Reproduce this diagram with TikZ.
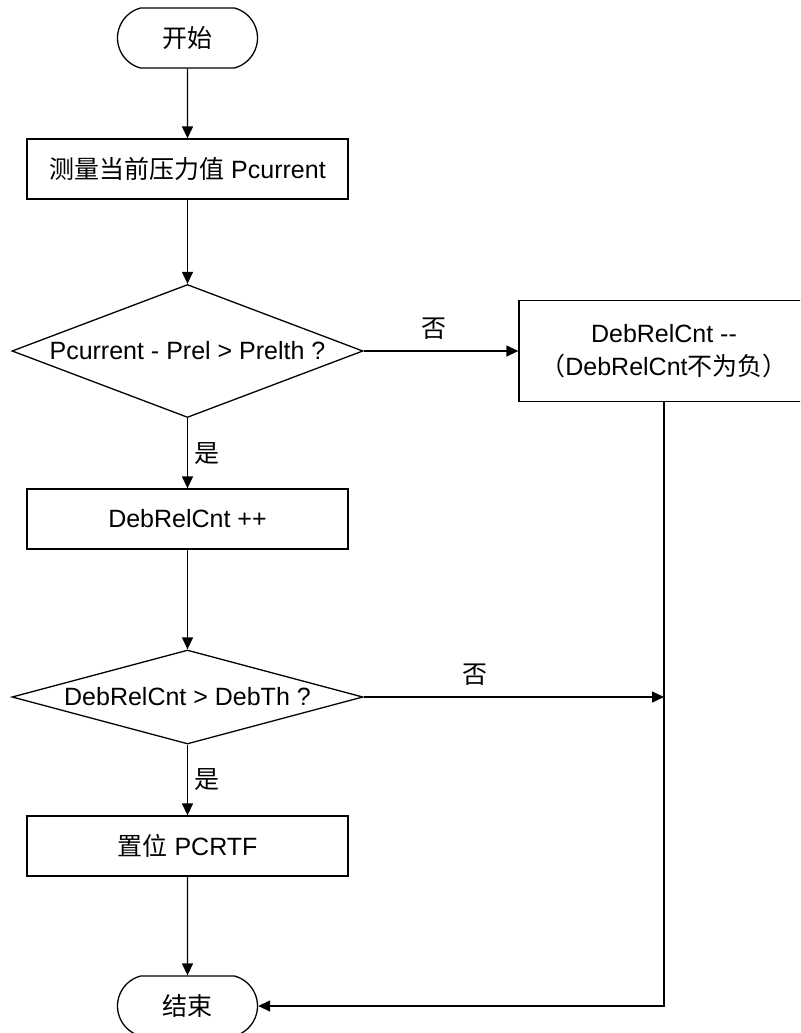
\documentclass[tikz,border=0pt]{standalone}
\usepackage{fontspec}
\setmainfont{Liberation Sans}
\newfontfamily\cjk{Noto Sans CJK SC}
\usepackage{tikz}
\usetikzlibrary{shapes, arrows.meta, positioning, calc}

\tikzset{
  terminal/.style={draw, rounded rectangle, rounded rectangle arc length=150, minimum width=74pt, minimum height=30pt, inner sep=2pt, font=\fontsize{12.5}{14}\selectfont\cjk},
  procbox/.style={draw, rectangle, minimum width=160.5pt, minimum height=30pt, font=\fontsize{12.5}{14}\selectfont},
  decision/.style={draw, diamond, minimum width=175.5pt, inner sep=-30pt, font=\fontsize{12.5}{14}\selectfont},
  flowarrow/.style={-{Triangle[length=6pt,width=5.5pt]}},
  branch/.style={font=\fontsize{12.5}{14}\selectfont\cjk}
}

\begin{document}
\begin{tikzpicture}[x=0.5pt, y=-0.5pt, line width=0.65pt]
  \clip (0,0) rectangle (800,1033);

  % Start and measurement
  \node[terminal] (start) at (187.5, 38) {开始};
  \node[procbox] (measure) at (187.5, 169) {{\cjk 测量当前压力值} Pcurrent};

  % First check
  \node[decision, minimum height=66.5pt] (check1) at (187.5, 351) {Pcurrent - Prel > Prelth ?};
  \node[procbox, minimum width=145pt, minimum height=50.5pt, align=center, font=\fontsize{12.5}{16.5}\selectfont] (dec) at (664, 351) {DebRelCnt -{}-\\{\cjk （}DebRelCnt{\cjk 不为负）}};
  \node[procbox] (inc) at (187.5, 519) {DebRelCnt ++};

  % Second check
  \node[decision, minimum height=47pt] (check2) at (187.5, 697) {DebRelCnt > DebTh ?};
  \node[procbox] (setflag) at (187.5, 846) {{\cjk 置位} PCRTF};
  \node[terminal] (stop) at (187.5, 1006) {结束};

  \coordinate (merge) at (dec.south |- check2.east);

  % Connectors
  \draw[flowarrow] (start) -- (measure);
  \draw[flowarrow] (measure) -- (check1);
  \draw[flowarrow] (check1.east) -- node[branch, above, pos=0.455, yshift=2pt] (no1) {否} (dec.west);
  \draw[flowarrow] (check1.south) -- node[branch, right] (yes1) {是} (inc.north);
  \draw[flowarrow] (inc) -- (check2);
  \draw[flowarrow] (check2.east) -- node[branch, above, pos=0.37, yshift=2pt] (no2) {否} (merge);
  \draw[flowarrow] (check2.south) -- node[branch, right] (yes2) {是} (setflag.north);
  \draw[flowarrow] (setflag) -- (stop);
  \draw[flowarrow] (dec.south) |- (stop.east);
\end{tikzpicture}
\end{document}
